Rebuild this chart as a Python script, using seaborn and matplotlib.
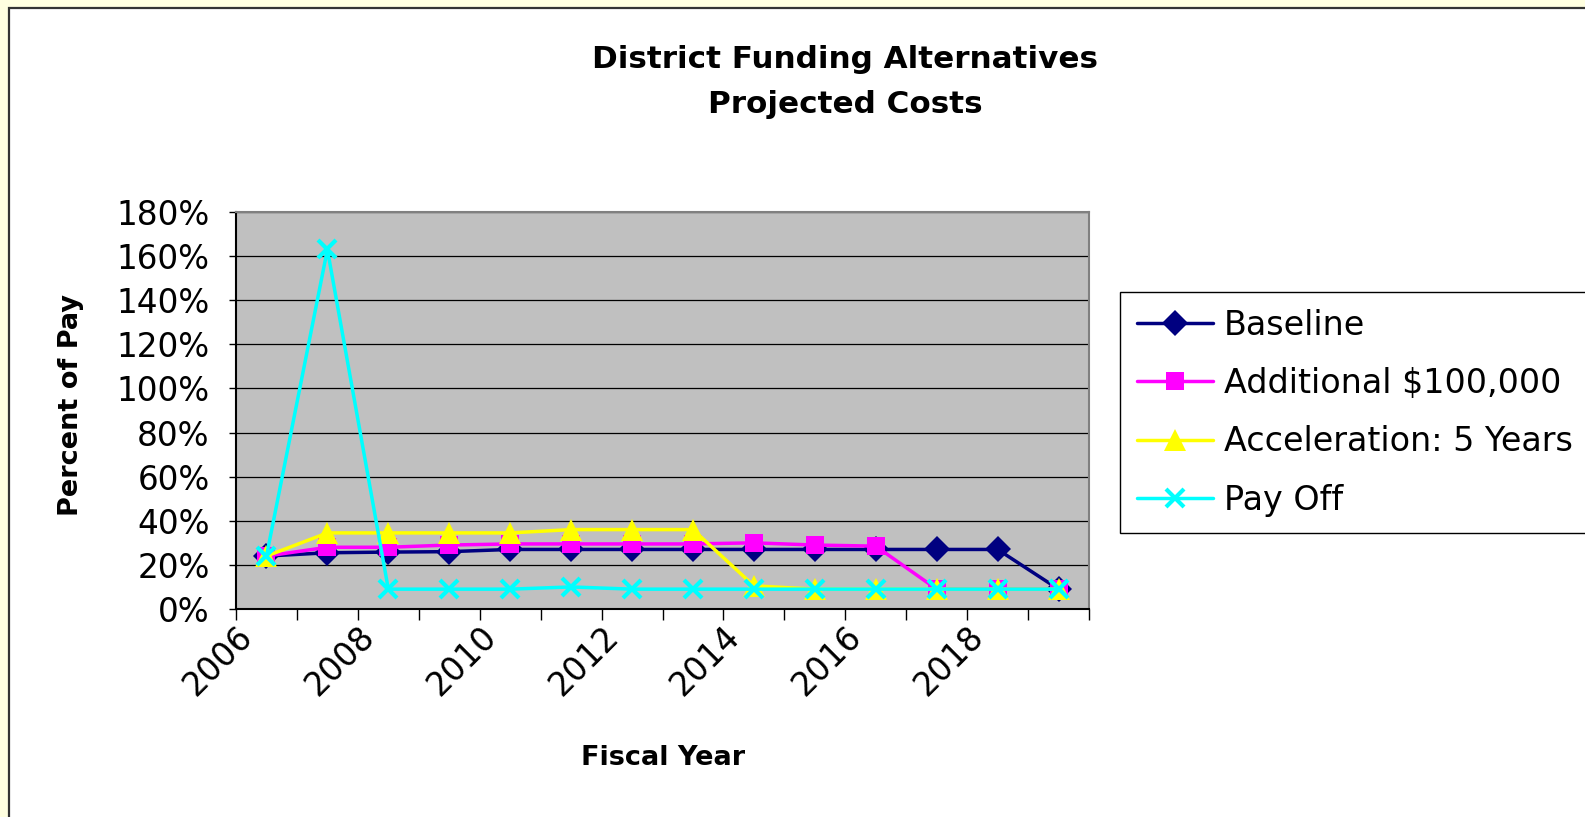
import matplotlib
matplotlib.use("Agg")
import matplotlib.pyplot as plt
from matplotlib.patches import Rectangle
from matplotlib.ticker import FuncFormatter, FixedLocator
import numpy as np
import pandas as pd
import seaborn as sns

# Fiscal years (each point sits in the middle of its year)
years = list(range(2006, 2020))

baseline = [24, 25.5, 25.8, 26, 27, 27, 27, 27, 27, 27, 27, 27, 27, 9]
additional = [24, 28, 28, 29, 29.5, 29.5, 29.5, 29.5, 30, 29, 28.5, 9, 9, 9]
acceleration = [24, 34.5, 34.5, 34.5, 34.5, 36, 36, 36, 10.5, 9, 9, 9, 9, 9]
pay_off = [24, 163, 9, 9, 9, 10, 9, 9, 9, 9, 9, 9, 9, 9]

series_names = ["Baseline", "Additional $100,000", "Acceleration: 5 Years", "Pay Off"]
series_values = [baseline, additional, acceleration, pay_off]

y_ticks = list(range(0, 181, 20))
x_label_years = list(range(2006, 2019, 2))

frames = []
for name, vals in zip(series_names, series_values):
    frames.append(pd.DataFrame({"year": years, "pct": vals, "series": name}))
df = pd.concat(frames, ignore_index=True)
df["x"] = df["year"] + 0.5

styles = {
    "Baseline": dict(color="#000080", marker="D", markersize=13.5,
                     markeredgewidth=0, markeredgecolor="#000080"),
    "Additional $100,000": dict(color="#FF00FF", marker="s", markersize=12.5,
                                markeredgewidth=0, markeredgecolor="#FF00FF"),
    "Acceleration: 5 Years": dict(color="#FFFF00", marker="^", markersize=16,
                                  markeredgewidth=0, markeredgecolor="#FFFF00"),
    "Pay Off": dict(color="#00FFFF", marker="x", markersize=13.5,
                    markeredgewidth=3, markeredgecolor="#00FFFF"),
}

sns.set_theme(style="white")
plt.rcParams["font.family"] = ["DejaVu Sans"]
for key in ["text.color", "axes.labelcolor", "xtick.color", "ytick.color"]:
    plt.rcParams[key] = "black"

W, H = 1585, 817
fig = plt.figure(figsize=(W / 100, H / 100), dpi=100)
fig.patch.set_facecolor("#FFFFE0")

# white chart area with dark frame
fig.patches.append(Rectangle((8.5 / W, -0.2), 1.3, 1.2 - 8 / H, transform=fig.transFigure,
                             facecolor="white", edgecolor="#333333", linewidth=1.6,
                             zorder=-10))

left, right, top, bottom = 236, 1089, 212, 609
ax = fig.add_axes([left / W, 1 - bottom / H, (right - left) / W, (bottom - top) / H])
ax.set_zorder(5)
ax.set_facecolor("#C0C0C0")

for name in series_names:
    sub = df[df["series"] == name]
    sns.lineplot(data=sub, x="x", y="pct", ax=ax, label=name, linewidth=2.5,
                 estimator=None, sort=False, **styles[name])

ax.set_xlim(2006, 2020)
ax.set_ylim(0, 180)

ax.yaxis.set_major_locator(FixedLocator(y_ticks))
ax.yaxis.set_major_formatter(FuncFormatter(lambda v, p: f"{int(v)}%"))
ax.grid(axis="y", color="black", linewidth=0.9)
ax.grid(axis="x", visible=False)
ax.set_axisbelow(True)

ax.set_xticks(range(2006, 2021))
ax.set_xticklabels([str(y) if y in x_label_years else "" for y in range(2006, 2021)])

ax.tick_params(axis="y", which="major", direction="out", length=5, width=1,
               color="black", labelsize=23.5, pad=14, left=True)
ax.tick_params(axis="x", which="major", direction="out", length=8, width=1,
               color="black", labelsize=23.5, pad=0, bottom=True)
for lbl in ax.get_xticklabels():
    lbl.set_rotation(45)
    lbl.set_ha("right")
    lbl.set_va("top")
    lbl.set_rotation_mode("anchor")

for side in ["left", "bottom"]:
    ax.spines[side].set_color("black")
    ax.spines[side].set_linewidth(1.5)
for side in ["top", "right"]:
    ax.spines[side].set_color("#808080")
    ax.spines[side].set_linewidth(1.5)

ax.set_xlabel("")
ax.set_ylabel("")

fig.text(845 / W, 1 - 82 / H, "District Funding Alternatives\nProjected Costs",
         ha="center", va="center", fontsize=22.3, fontweight="bold", linespacing=1.7)
fig.text(71 / W, 1 - 405 / H, "Percent of Pay", rotation=90, ha="center", va="center",
         fontsize=19.5, fontweight="bold")
fig.text(663 / W, 1 - 758 / H, "Fiscal Year", ha="center", va="center",
         fontsize=19.5, fontweight="bold")

leg = ax.legend(loc="upper left", bbox_to_anchor=(1120 / W, 1 - 292 / H),
                bbox_transform=fig.transFigure, borderaxespad=0, frameon=True,
                fancybox=False, shadow=False, fontsize=24, handlelength=2.28,
                labelspacing=0.76, handletextpad=0.33, borderpad=0.5)
leg.get_frame().set_edgecolor("black")
leg.get_frame().set_linewidth(1.0)
leg.get_frame().set_facecolor("white")
leg.get_frame().set_alpha(1)

fig.savefig("out.png", dpi=100, facecolor=fig.get_facecolor())
